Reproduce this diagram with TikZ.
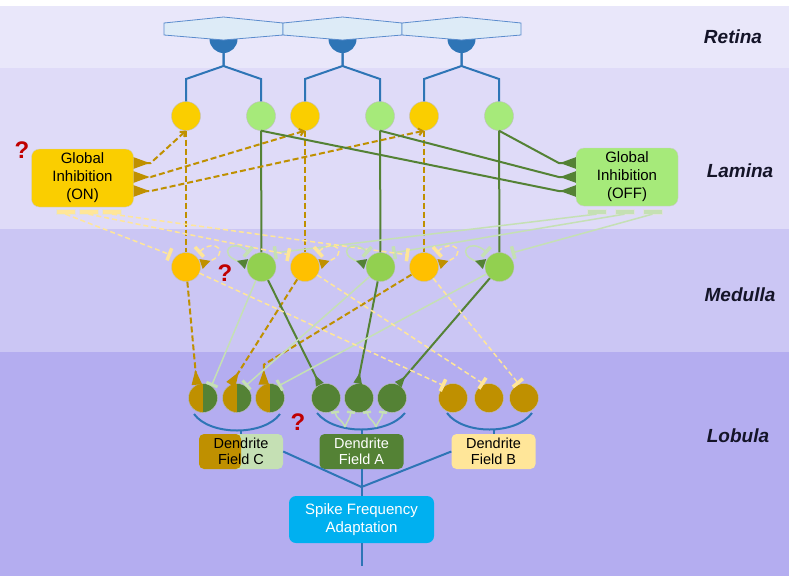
\documentclass[tikz,border=0pt]{standalone}
\usepackage{fontspec}
\setmainfont{Liberation Sans}
\usetikzlibrary{arrows.meta, calc}
\definecolor{bgretina}{RGB}{233,231,250}
\definecolor{bglamina}{RGB}{223,219,248}
\definecolor{bgmedulla}{RGB}{203,198,244}
\definecolor{bglobula}{RGB}{180,173,240}
\definecolor{onyel}{RGB}{250,206,0}
\definecolor{offgrn}{RGB}{166,234,122}
\definecolor{medyel}{RGB}{255,192,0}
\definecolor{medgrn}{RGB}{146,208,80}
\definecolor{dkgold}{RGB}{191,144,0}
\definecolor{dkgreen}{RGB}{84,130,53}
\definecolor{paleyel}{RGB}{255,230,153}
\definecolor{palegrn}{RGB}{197,224,180}
\definecolor{retblue}{RGB}{46,117,182}
\definecolor{hexfill}{RGB}{221,235,247}
\definecolor{hexline}{RGB}{91,140,205}
\definecolor{sfacyan}{RGB}{0,176,240}
\definecolor{qred}{RGB}{192,0,0}
\definecolor{labelink}{RGB}{20,20,40}

\newcommand{\boxfont}{\fontsize{15}{18}\selectfont}
\newcommand{\dffont}{\fontsize{14.5}{16}\selectfont}
\newcommand{\layerfont}{\fontsize{19}{20}\selectfont\bfseries\itshape}

\tikzset{
  cell/.style={circle, draw=black!25, line width=0.4pt, minimum size=29pt, inner sep=0pt},
  halfsplit/.style={fill=dkgreen, path picture={\fill[dkgold] (path picture bounding box.south west) rectangle (path picture bounding box.north);}},
  gibox/.style={rounded corners=8pt, draw=black!20, line width=0.4pt, minimum width=102pt, minimum height=58pt, align=center, inner sep=0pt, font=\boxfont},
  fieldbox/.style={rounded corners=5pt, minimum width=84pt, minimum height=35pt, align=center, inner sep=0pt, font=\dffont},
  gibar/.style={rectangle, minimum width=19pt, minimum height=5pt, inner sep=0pt, draw=black!12, line width=0.3pt},
  hexcell/.style={fill=hexfill, draw=hexline, line width=0.8pt},
  layer/.style={font=\layerfont, text=labelink},
  qmark/.style={font=\fontsize{24}{24}\selectfont\bfseries, text=qred},
  retline/.style={retblue, line width=2pt},
  ondash/.style={dkgold, line width=2pt, dash pattern=on 6pt off 3pt},
  offline/.style={dkgreen, line width=2pt},
  pydash/.style={paleyel, line width=1.5pt, dash pattern=on 5pt off 3pt},
  pgline/.style={palegrn, line width=1.5pt}
}

\begin{document}
\begin{tikzpicture}[x=1pt, y=-1pt]
  \useasboundingbox (0,0) rectangle (789,576);
  % layer bands
  \fill[white] (0,0) rectangle (789,576);
  \fill[bgretina] (0,6) rectangle (789,68);
  \fill[bglamina] (0,68) rectangle (789,229);
  \fill[bgmedulla] (0,229) rectangle (789,352);
  \fill[bglobula] (0,352) rectangle (789,576);

  \node[layer] (lretina) at (733,37) {Retina};
  \node[layer] (llamina) at (740,171) {Lamina};
  \node[layer] (lmedulla) at (740,295) {Medulla};
  \node[layer] (llobula) at (738,436) {Lobula};

  % retina, lamina and medulla cells
  \foreach \i/\x in {1/223.5, 2/342.5, 3/461.5} {
    \fill[retblue] (\x,39) circle[radius=14];
    \draw[hexcell] (\x-59.5,23) -- (\x,17) -- (\x+59.5,23) -- (\x+59.5,35) -- (\x,40) -- (\x-59.5,35) -- cycle;
    \coordinate (r\i) at (\x,53);
    \node[cell, fill=onyel] (ly\i) at (\x-37.5,116) {};
    \node[cell, fill=offgrn] (lg\i) at (\x+37.5,116) {};
    \node[cell, fill=medyel] (my\i) at (\x-37.5,267) {};
    \node[cell, fill=medgrn] (mg\i) at (\x+38,267) {};
  }

  % global inhibition
  \node[gibox, fill=onyel] (onbox) at (82.5,178) {Global\\Inhibition\\(ON)};
  \node[gibox, fill=offgrn] (offbox) at (627,177) {Global\\Inhibition\\(OFF)};
  \foreach \i/\x in {1/65.5, 2/88.5, 3/112} \node[gibar, fill=paleyel] (onbar\i) at (\x,211.5) {};
  \foreach \i/\x in {1/596.5, 2/624.5, 3/652.5} \node[gibar, fill=palegrn] (offbar\i) at (\x,211.5) {};

  % lobula cells
  \foreach \i/\x in {1/203, 2/237, 3/270} \node[cell, halfsplit] (c\i) at (\x,398) {};
  \foreach \i/\x in {1/326, 2/359, 3/392} \node[cell, fill=dkgreen] (a\i) at (\x,398) {};
  \foreach \i/\x in {1/453, 2/489, 3/524} \node[cell, fill=dkgold] (b\i) at (\x,398) {};

  \node[fieldbox, fill=palegrn, path picture={\fill[dkgold] (path picture bounding box.south west) rectangle (path picture bounding box.north);}] (fieldc) at (241,451.5) {Dendrite\\Field C};
  \node[fieldbox, fill=dkgreen, text=white] (fielda) at (361.5,451.5) {Dendrite\\Field A};
  \node[fieldbox, fill=paleyel] (fieldb) at (493.5,451.5) {Dendrite\\Field B};
  \node[rounded corners=7pt, fill=sfacyan, text=white, minimum width=145pt, minimum height=47pt,
        align=center, inner sep=0pt, font=\boxfont] (sfa) at (361.5,519.5) {Spike Frequency\\Adaptation};

  \node[qmark] (q1) at (22,150) {?};
  \node[qmark] (q2) at (225,273) {?};
  \node[qmark] (q3) at (298,422) {?};

  % retina to lamina
  \foreach \i in {1,2,3} {
    \draw[retline] (r\i) -- ++(0,13) -- ++(-37.5,13) -- (ly\i.north);
    \draw[retline] (r\i) -- ++(0,13) -- ++(37.5,13) -- (lg\i.north);
  }

  % lamina to medulla
  \foreach \i in {1,2,3} {
    \draw[ondash] (ly\i) -- (my\i);
    \draw[offline] (lg\i) -- (mg\i);
  }

  % lamina to global inhibition
  \foreach \i/\dy in {1/-15, 2/-1, 3/13}
    \draw[ondash, {Straight Barb[length=4pt,width=7pt]}-{Triangle[reversed,length=16pt,width=11pt]}]
      (ly\i.south) -- ($(onbox.east)+(17,\dy)$) -- ($(onbox.east)+(0,\dy)$);
  \foreach \i/\dy in {3/-14, 2/0, 1/14}
    \draw[offline, -{Triangle[reversed,length=16pt,width=11pt]}]
      (lg\i.south) -- ($(offbox.west)+(-17,\dy)$) -- ($(offbox.west)+(0,\dy)$);

  % global inhibition to medulla
  \foreach \i in {1,2,3} {
    \draw[pydash, -{Bar[width=13pt,line width=3.5pt]}] (onbar\i.south) -- ([shift={(-15,-12)}]my\i.center);
    \draw[pgline, -{Bar[width=13pt,line width=3.5pt]}] (offbar\i.south) -- ([shift={(12,-14)}]mg\i.center);
  }

  % medulla self loops
  \foreach \i in {1,2,3} {
    \draw[pydash, {Bar[width=13pt,line width=3.5pt]}-{Triangle[reversed,length=10pt,width=10pt,color=dkgold]}]
      ([shift={(12,-14)}]my\i.center) .. controls +(18,-16) and +(30,-10) .. ([shift={(15,-3)}]my\i.center);
    \draw[pgline, {Bar[width=13pt,line width=3.5pt]}-{Triangle[reversed,length=10pt,width=10pt,color=dkgreen]}]
      ([shift={(-12,-14)}]mg\i.center) .. controls +(-18,-16) and +(-30,-10) .. ([shift={(-15,-3)}]mg\i.center);
  }

  % medulla to lobula
  \draw[ondash, -{Triangle[reversed,length=15pt,width=10pt]}] (my1) -- (c1.115);
  \draw[ondash, -{Triangle[reversed,length=15pt,width=10pt]}] (my2) -- (c2.115);
  \draw[ondash, -{Triangle[reversed,length=15pt,width=10pt]}] (my3) -- ([yshift=20pt]c3.115) -- (c3.115);
  \draw[offline, -{Triangle[reversed,length=11pt,width=8pt]}] (mg1) -- (a1.115);
  \draw[offline, -{Triangle[reversed,length=11pt,width=8pt]}] (mg2) -- (a2.95);
  \draw[offline, -{Triangle[reversed,length=11pt,width=8pt]}] (mg3) -- (a3.65);
  \foreach \i in {1,2,3}
    \draw[pgline, -{Bar[width=12pt,line width=3pt]}] (mg\i) -- (c\i.55);
  \draw[pydash, -{Bar[width=13pt,line width=3.5pt]}] (my1) -- (b1.125);
  \draw[pydash, -{Bar[width=13pt,line width=3.5pt]}] (my2) -- (b2.110);
  \draw[pydash, -{Bar[width=13pt,line width=3.5pt]}] (my3) -- (b3.110);

  % dendrite fields
  \draw[retline] ([shift={(-9,16)}]c1.center) .. controls +(16,22) and +(-16,22) .. ([shift={(10,16)}]c3.center);
  \draw[retline] ([shift={(-9,15)}]a1.center) .. controls +(18,22) and +(-18,22) .. ([shift={(13,15)}]a3.center);
  \draw[retline] ([shift={(-6,15)}]b1.center) .. controls +(16,22) and +(-16,22) .. ([shift={(8,15)}]b3.center);
  \draw[retline] (fieldc.north) -- ++(0,-4);
  \draw[retline] (fielda.north) -- ++(0,-4);
  \draw[retline] (fieldb.north) -- ++(0,-4);

  \coordinate (fk1) at (345,427);
  \coordinate (fk2) at (376,427);
  \draw[pgline, -{Bar[width=8pt,line width=2.5pt]}] (fk1) .. controls +(-3,-8) and +(1,8) .. ([shift={(9,13)}]a1.center);
  \draw[pgline, -{Bar[width=8pt,line width=2.5pt]}] (fk1) .. controls +(3,-8) and +(-1,8) .. ([shift={(-8,13)}]a2.center);
  \draw[pgline, -{Bar[width=8pt,line width=2.5pt]}] (fk2) .. controls +(-3,-8) and +(1,8) .. ([shift={(8,13)}]a2.center);
  \draw[pgline, -{Bar[width=8pt,line width=2.5pt]}] (fk2) .. controls +(3,-8) and +(-1,8) .. ([shift={(-9,13)}]a3.center);

  % output
  \coordinate (join) at (361.5,487);
  \coordinate (sfaout) at (361.5,566);
  \draw[retline] (fieldc.east) -- (join);
  \draw[retline] (fieldb.west) -- (join);
  \draw[retline] (fielda.south) -- (join) -- (sfa.north);
  \draw[retline] (sfa.south) -- (sfaout);
\end{tikzpicture}
\end{document}
